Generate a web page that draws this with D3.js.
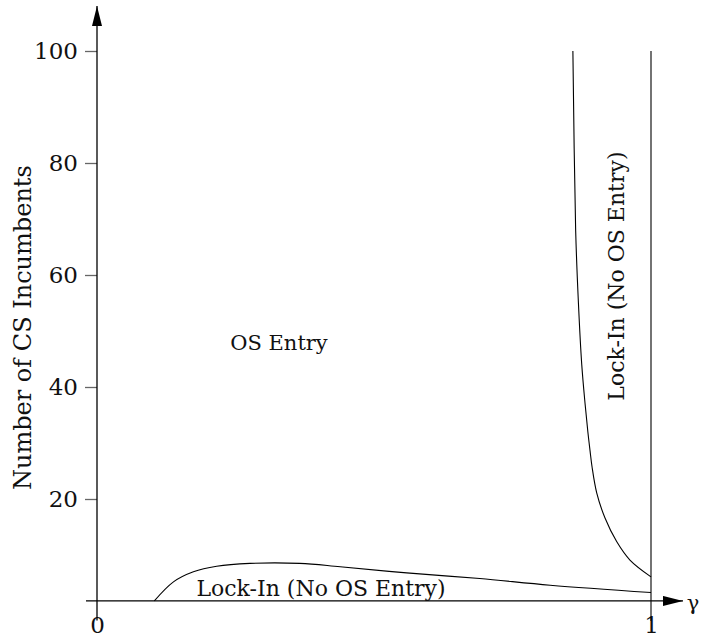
<!DOCTYPE html>
<html>
<head>
<meta charset="utf-8">
<script src="https://cdn.jsdelivr.net/npm/d3@7"></script>
<style>
  body { margin: 0; background: #fff; }
  text { font-family: "DejaVu Serif", serif; fill: #111; }
</style>
</head>
<body>
<svg id="chart" width="701" height="644"></svg>
<script>
// values
const yTicks = [20, 40, 60, 80, 100];
const xTicks = [0, 1];
const axisLevel = 1.8; // the x axis sits a little above y = 0

// threshold curve near gamma = 1 (upper right)
const upperGamma = [0.859, 0.864, 0.869, 0.875, 0.881, 0.886, 0.890, 0.8935, 0.902, 0.917, 0.938, 0.962, 1.0];
const upperN     = [100, 68, 55, 44, 37, 32, 28.6, 25.8, 21.1, 16.6, 12.4, 9.1, 6.1];

// threshold curve along the bottom
const lowerGamma = [0.1035, 0.138, 0.174, 0.216, 0.276, 0.366, 0.439, 0.559, 0.691, 0.818, 1.0];
const lowerN     = [1.8, 5.2, 7.0, 8.0, 8.5, 8.5, 7.9, 6.8, 5.8, 4.6, 3.3];

// boundary at gamma = 1
const boundaryGamma = [1, 1];
const boundaryN = [100, -1.8];

const svg = d3.select('#chart');

const x = d3.scaleLinear().domain([0, 1]).range([97, 651]);
const y = d3.scaleLinear().domain([0, 100]).range([611, 51]);

const defs = svg.append('defs');
defs.append('marker')
    .attr('id', 'arrow')
    .attr('viewBox', '0 0 20 10')
    .attr('refX', 20).attr('refY', 5)
    .attr('markerWidth', 20).attr('markerHeight', 10)
    .attr('markerUnits', 'userSpaceOnUse')
    .attr('orient', 'auto')
  .append('path')
    .attr('d', 'M0,0 L20,5 L0,10 Z')
    .attr('fill', '#000');

// y axis ticks and labels
const yAxis = svg.append('g')
    .attr('transform', 'translate(' + x(0) + ',0)')
    .call(d3.axisLeft(y).tickValues(yTicks).tickSize(12).tickPadding(7).tickFormat(d3.format('d')));
yAxis.select('.domain').remove();
yAxis.selectAll('.tick line').attr('stroke', '#666').attr('stroke-width', 1.3);
yAxis.selectAll('.tick text')
    .style('font-family', '"DejaVu Serif", serif')
    .style('font-size', '23px')
    .attr('fill', '#111');

// x tick labels
const xAxis = svg.append('g')
    .attr('transform', 'translate(0,' + y(axisLevel) + ')')
    .call(d3.axisBottom(x).tickValues(xTicks).tickSize(0).tickPadding(16).tickFormat(d3.format('d')));
xAxis.select('.domain').remove();
xAxis.selectAll('.tick text')
    .style('font-family', '"DejaVu Serif", serif')
    .style('font-size', '23px')
    .attr('fill', '#111');

// axis lines with arrowheads
svg.append('line')
    .attr('x1', x(0)).attr('y1', y(-1.7))
    .attr('x2', x(0)).attr('y2', 6)
    .attr('stroke', '#000').attr('stroke-width', 1.3)
    .attr('marker-end', 'url(#arrow)');
svg.append('line')
    .attr('x1', x(0) - 11).attr('y1', y(axisLevel))
    .attr('x2', 683).attr('y2', y(axisLevel))
    .attr('stroke', '#000').attr('stroke-width', 1.3)
    .attr('marker-end', 'url(#arrow)');

const line = d3.line()
    .x(d => x(d[0]))
    .y(d => y(d[1]))
    .curve(d3.curveCatmullRom);

svg.append('path')
    .datum(d3.zip(upperGamma, upperN))
    .attr('d', line)
    .attr('fill', 'none').attr('stroke', '#000').attr('stroke-width', 1.1);

svg.append('path')
    .datum(d3.zip(lowerGamma, lowerN))
    .attr('d', line)
    .attr('fill', 'none').attr('stroke', '#000').attr('stroke-width', 1.1);

svg.append('path')
    .datum(d3.zip(boundaryGamma, boundaryN))
    .attr('d', d3.line().x(d => x(d[0])).y(d => y(d[1])))
    .attr('fill', 'none').attr('stroke', '#000').attr('stroke-width', 1.1);

// labels
svg.append('text')
    .attr('transform', 'translate(31,' + y(50.6) + ') rotate(-90)')
    .attr('text-anchor', 'middle')
    .style('font-size', '24px')
    .text('Number of CS Incumbents');

svg.append('text')
    .attr('x', 693).attr('y', y(axisLevel) + 9)
    .attr('text-anchor', 'middle')
    .style('font-size', '21px')
    .text('γ');

svg.append('text')
    .attr('x', 279).attr('y', y(46.6))
    .attr('text-anchor', 'middle')
    .style('font-size', '21px')
    .text('OS Entry');

svg.append('text')
    .attr('x', 321).attr('y', y(axisLevel) - 5)
    .attr('text-anchor', 'middle')
    .style('font-size', '22px')
    .text('Lock-In (No OS Entry)');

svg.append('text')
    .attr('transform', 'translate(624,' + y(59.8) + ') rotate(-90)')
    .attr('text-anchor', 'middle')
    .style('font-size', '22px')
    .text('Lock-In (No OS Entry)');
</script>
</body>
</html>
